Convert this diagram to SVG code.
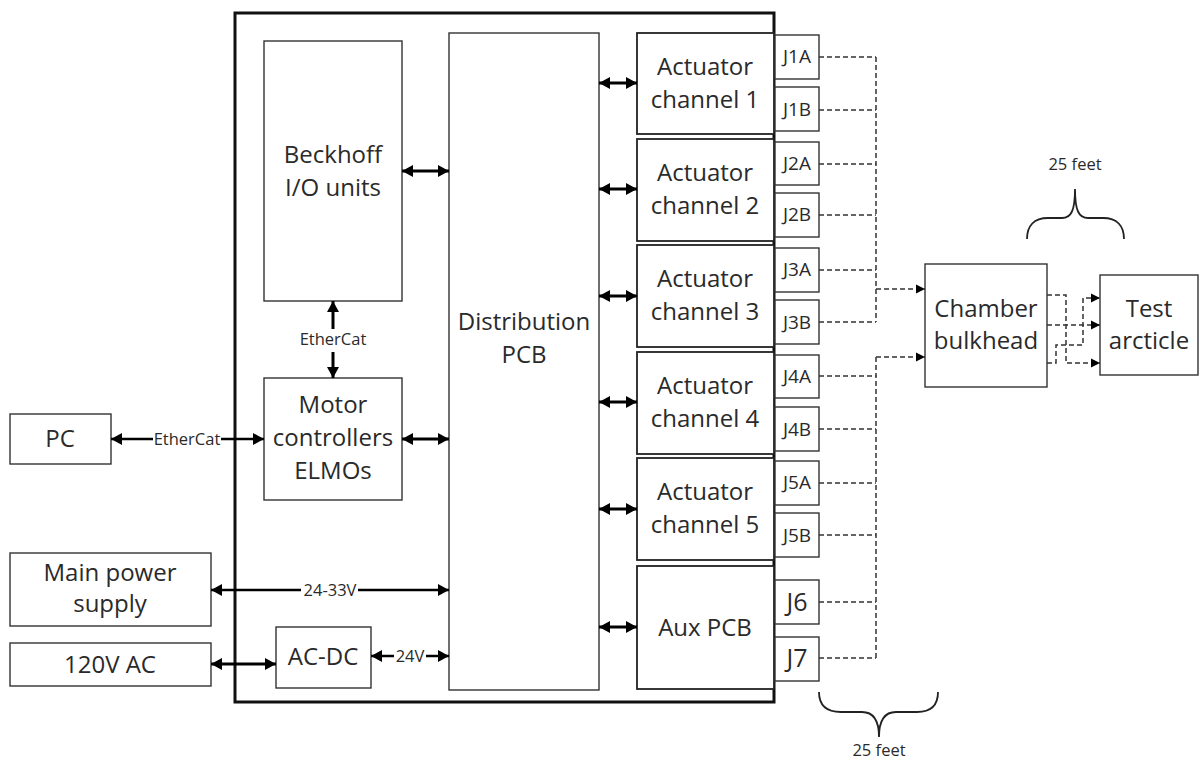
<svg xmlns="http://www.w3.org/2000/svg" width="1199" height="760" viewBox="0 0 1199 760">
<style>
  .box{fill:#fff;stroke:#333;stroke-width:1.4}
  .abox{fill:#fff;stroke:#222;stroke-width:1.8}
  .t{font-family:"Open Sans","Noto Sans","DejaVu Sans",sans-serif;fill:#2a2a2a;text-anchor:middle}
  .big{font-size:24px}
  .j{font-size:19px}
  .j2{font-size:25px}
  .sm{font-size:16.5px}
  .arr{stroke:#000;stroke-width:3;fill:none}
  .arr2{stroke:#000;stroke-width:2.5;fill:none}
  .dash{stroke:#333;stroke-width:1.5;fill:none;stroke-dasharray:5 3}
  .brace{stroke:#222;stroke-width:1.8;fill:none}
</style>
<defs>
  <marker id="ah" markerUnits="userSpaceOnUse" markerWidth="14" markerHeight="14" refX="11" refY="6" orient="auto-start-reverse">
    <path d="M0,0 L11,6 L0,12 Z" fill="#000"/>
  </marker>
  <marker id="dh" markerUnits="userSpaceOnUse" markerWidth="12" markerHeight="12" refX="9" refY="5" orient="auto">
    <path d="M0,0.5 L9,5 L0,9.5 Z" fill="#000"/>
  </marker>
</defs>

<g id="enclosure">
  <rect x="235" y="13" width="539" height="689" fill="none" stroke="#111" stroke-width="3"/>
</g>

<g id="beckhoff">
  <rect class="box" x="264" y="41" width="138" height="260"/>
  <text class="t big" x="333" y="163">Beckhoff</text>
  <text class="t big" x="333" y="196">I/O units</text>
</g>
<g id="motor">
  <rect class="box" x="264" y="378" width="138" height="122"/>
  <text class="t big" x="333" y="413">Motor</text>
  <text class="t big" x="333" y="446">controllers</text>
  <text class="t big" x="333" y="479">ELMOs</text>
</g>
<g id="distribution">
  <rect class="box" x="449" y="33" width="150" height="657"/>
  <text class="t big" x="524" y="330">Distribution</text>
  <text class="t big" x="524" y="363">PCB</text>
</g>
<g id="ch1">
  <rect class="abox" x="637" y="33" width="137" height="101"/>
  <text class="t big" x="705" y="75">Actuator</text>
  <text class="t big" x="705" y="108">channel 1</text>
</g>
<g id="ch2">
  <rect class="abox" x="637" y="139" width="137" height="102"/>
  <text class="t big" x="705" y="181">Actuator</text>
  <text class="t big" x="705" y="214">channel 2</text>
</g>
<g id="ch3">
  <rect class="abox" x="637" y="245" width="137" height="102"/>
  <text class="t big" x="705" y="287">Actuator</text>
  <text class="t big" x="705" y="320">channel 3</text>
</g>
<g id="ch4">
  <rect class="abox" x="637" y="352" width="137" height="102"/>
  <text class="t big" x="705" y="394">Actuator</text>
  <text class="t big" x="705" y="427">channel 4</text>
</g>
<g id="ch5">
  <rect class="abox" x="637" y="458" width="137" height="102"/>
  <text class="t big" x="705" y="500">Actuator</text>
  <text class="t big" x="705" y="533">channel 5</text>
</g>
<g id="aux">
  <rect class="abox" x="637" y="566" width="137" height="123"/>
  <text class="t big" x="705" y="636">Aux PCB</text>
</g>

<g id="J1A"><rect class="box" x="775" y="35" width="44" height="44"/><text class="t j" x="797" y="63">J1A</text></g>
<g id="J1B"><rect class="box" x="775" y="87" width="44" height="44"/><text class="t j" x="797" y="116">J1B</text></g>
<g id="J2A"><rect class="box" x="775" y="142" width="44" height="43"/><text class="t j" x="797" y="170">J2A</text></g>
<g id="J2B"><rect class="box" x="775" y="193" width="44" height="44"/><text class="t j" x="797" y="221">J2B</text></g>
<g id="J3A"><rect class="box" x="775" y="248" width="44" height="44"/><text class="t j" x="797" y="276">J3A</text></g>
<g id="J3B"><rect class="box" x="775" y="300" width="44" height="44"/><text class="t j" x="797" y="329">J3B</text></g>
<g id="J4A"><rect class="box" x="775" y="355" width="44" height="43"/><text class="t j" x="797" y="383">J4A</text></g>
<g id="J4B"><rect class="box" x="775" y="407" width="44" height="44"/><text class="t j" x="797" y="436">J4B</text></g>
<g id="J5A"><rect class="box" x="775" y="461" width="44" height="44"/><text class="t j" x="797" y="489">J5A</text></g>
<g id="J5B"><rect class="box" x="775" y="513" width="44" height="44"/><text class="t j" x="797" y="542">J5B</text></g>
<g id="J6"><rect class="box" x="775" y="580" width="44" height="44"/><text class="t j2" x="797" y="611">J6</text></g>
<g id="J7"><rect class="box" x="775" y="637" width="44" height="44"/><text class="t j2" x="797" y="667">J7</text></g>

<g id="pc">
  <rect class="box" x="10" y="414" width="101" height="50"/>
  <text class="t big" x="60" y="447">PC</text>
</g>
<g id="mainpower">
  <rect class="box" x="10" y="553" width="201" height="73"/>
  <text class="t big" x="110" y="581">Main power</text>
  <text class="t big" x="110" y="612">supply</text>
</g>
<g id="ac120">
  <rect class="box" x="10" y="643" width="201" height="43"/>
  <text class="t big" x="110" y="673">120V AC</text>
</g>
<g id="acdc">
  <rect class="box" x="276" y="627" width="95" height="61"/>
  <text class="t big" x="323" y="665">AC-DC</text>
</g>
<g id="bulkhead">
  <rect class="box" x="925" y="264" width="122" height="123"/>
  <text class="t big" x="986" y="317">Chamber</text>
  <text class="t big" x="986" y="349">bulkhead</text>
</g>
<g id="testarticle">
  <rect class="box" x="1100" y="275" width="98" height="100"/>
  <text class="t big" x="1149" y="317">Test</text>
  <text class="t big" x="1149" y="349">arcticle</text>
</g>

<g id="connectors">
  <line class="arr" x1="402" y1="171" x2="449" y2="171" marker-start="url(#ah)" marker-end="url(#ah)"/>
  <line class="arr" x1="402" y1="439" x2="449" y2="439" marker-start="url(#ah)" marker-end="url(#ah)"/>
  <line class="arr" x1="599" y1="83" x2="637" y2="83" marker-start="url(#ah)" marker-end="url(#ah)"/>
  <line class="arr" x1="599" y1="189" x2="637" y2="189" marker-start="url(#ah)" marker-end="url(#ah)"/>
  <line class="arr" x1="599" y1="296" x2="637" y2="296" marker-start="url(#ah)" marker-end="url(#ah)"/>
  <line class="arr" x1="599" y1="402" x2="637" y2="402" marker-start="url(#ah)" marker-end="url(#ah)"/>
  <line class="arr" x1="599" y1="509" x2="637" y2="509" marker-start="url(#ah)" marker-end="url(#ah)"/>
  <line class="arr" x1="599" y1="627" x2="637" y2="627" marker-start="url(#ah)" marker-end="url(#ah)"/>
  <line class="arr" x1="333" y1="329" x2="333" y2="301" marker-end="url(#ah)"/>
  <line class="arr" x1="333" y1="352" x2="333" y2="378" marker-end="url(#ah)"/>
  <text class="t sm" x="333" y="345">EtherCat</text>
  <line class="arr2" x1="111" y1="439" x2="264" y2="439" marker-start="url(#ah)" marker-end="url(#ah)"/>
  <rect x="153" y="430" width="68" height="18" fill="#fff"/>
  <text class="t sm" x="187" y="445">EtherCat</text>
  <line class="arr2" x1="211" y1="590" x2="449" y2="590" marker-start="url(#ah)" marker-end="url(#ah)"/>
  <rect x="301" y="581" width="57" height="18" fill="#fff"/>
  <text class="t sm" x="330" y="596">24-33V</text>
  <line class="arr" x1="211" y1="664" x2="276" y2="664" marker-start="url(#ah)" marker-end="url(#ah)"/>
  <line class="arr2" x1="371" y1="656" x2="449" y2="656" marker-start="url(#ah)" marker-end="url(#ah)"/>
  <rect x="394" y="647" width="32" height="18" fill="#fff"/>
  <text class="t sm" x="410" y="662">24V</text>

  <path class="dash" d="M819,57 H876 M819,110 H876 M819,164 H876 M819,215 H876 M819,270 H876 M819,322 H876 M876,57 V322"/>
  <path class="dash" d="M876,289 H925" marker-end="url(#dh)"/>
  <path class="dash" d="M819,376 H876 M819,429 H876 M819,483 H876 M819,535 H876 M819,602 H876 M819,658 H876 M876,357 V658"/>
  <path class="dash" d="M876,357 H925" marker-end="url(#dh)"/>
  <path class="dash" d="M1047,295 H1066 V363 H1100" marker-end="url(#dh)"/>
  <path class="dash" d="M1047,325 H1100" marker-end="url(#dh)"/>
  <path class="dash" d="M1047,363 H1056 V345 H1083 V298 H1100" marker-end="url(#dh)"/>
</g>

<g id="brace-top">
  <path class="brace" d="M1027,239 C1027,226 1034,218 1048,218 L1062,218 C1071,218 1075,211 1075,189 C1075,211 1079,218 1088,218 L1103,218 C1117,218 1124,226 1124,239"/>
  <text class="t sm" x="1075" y="170">25 feet</text>
</g>
<g id="brace-bottom">
  <path class="brace" d="M819,692 C819,705 826,712 841,712 L862,712 C873,712 879,719 879,737 C879,719 885,712 896,712 L917,712 C931,712 938,705 938,692"/>
  <text class="t sm" x="879" y="756">25 feet</text>
</g>
</svg>
